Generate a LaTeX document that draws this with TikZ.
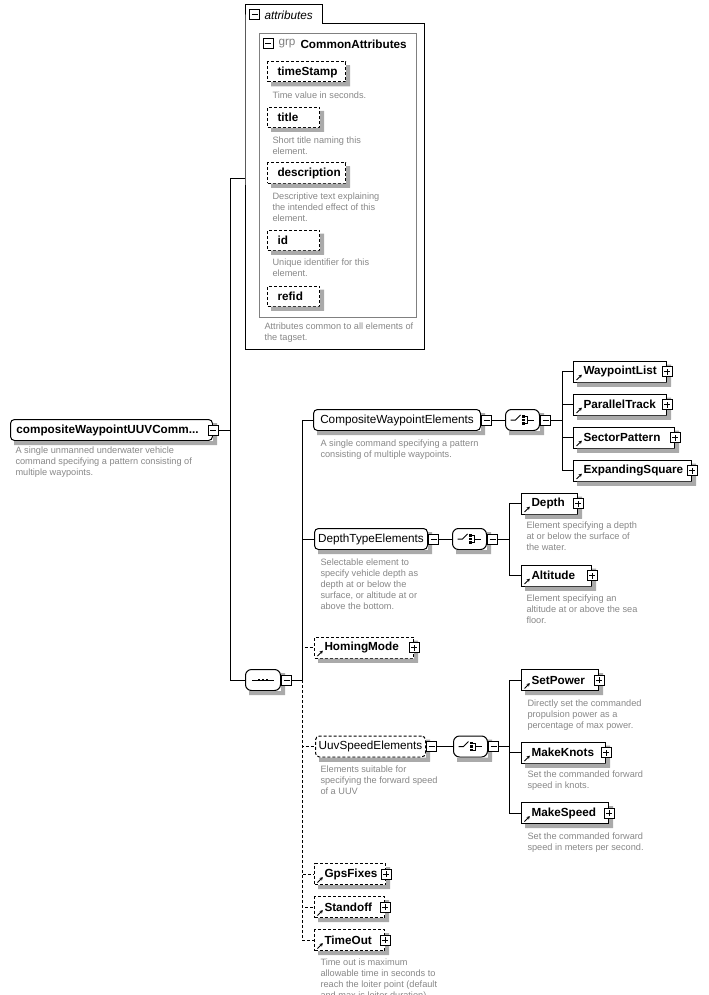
\documentclass[tikz,border=0pt]{standalone}
\usepackage{fontspec}
\setmainfont{Liberation Sans}
\usetikzlibrary{arrows.meta}

\newdimen\px
\px=0.75pt

\definecolor{shadowgray}{RGB}{170,170,170}

\tikzset{
  nm/.style={font=\fontsize{8.8}{10}\selectfont},
  nmb/.style={font=\bfseries\fontsize{8.8}{10}\selectfont},
  dsh/.style={dash pattern=on 2.25pt off 1.5pt},
  box/.style={draw, fill=white, rectangle, anchor=west, minimum height=21\px,
    inner xsep=0pt, inner ysep=0pt, text width=#1\px},
  refbox/.style={box=#1, nmb, execute at begin node=\hspace*{10\px},
    path picture={\draw[solid, -{Stealth[length=2.4pt,width=2.6pt]}]
      ([xshift=2.25pt,yshift=1.5pt]path picture bounding box.south west) -- ++(4pt,4pt);}},
  optbox/.style={refbox=#1, dsh},
  attbox/.style={box=#1, nmb, minimum height=20\px, dsh, execute at begin node=\hspace*{10\px}},
  grpbox/.style={draw, fill=white, rectangle, rounded corners=3pt, anchor=west,
    minimum width=#1\px, minimum height=21\px, inner sep=0pt, nm},
  rootbox/.style={grpbox=#1, nmb, execute at end node=\hspace{8\px}},
  optgrp/.style={grpbox=#1, dsh},
  pm/.style={draw, solid, fill=white, rectangle, minimum size=10\px, inner sep=0pt},
  plusbox/.style={pm, path picture={
    \draw ([xshift=1.5pt]path picture bounding box.west) -- ([xshift=-1.5pt]path picture bounding box.east)
          ([yshift=1.5pt]path picture bounding box.south) -- ([yshift=-1.5pt]path picture bounding box.north);}},
  minbox/.style={pm, path picture={
    \draw ([xshift=1.5pt]path picture bounding box.west) -- ([xshift=-1.5pt]path picture bounding box.east);}},
  comp/.style={draw, fill=white, rectangle, rounded corners=4.5pt, anchor=west,
    minimum width=#1\px, minimum height=21\px, inner sep=0pt},
  seqc/.style={comp=35, path picture={
    \begin{scope}[shift={(path picture bounding box.center)}, sharp corners]
      \draw (-11,0) -- (11,0);
      \foreach \k in {-4,0,4} \fill[black] (\k-1.4,-1.4) rectangle (\k+1.4,1.4);
    \end{scope}}},
  choc/.style={comp=34, path picture={
    \begin{scope}[shift={(path picture bounding box.center)}, sharp corners]
      \draw (-12,0) -- (-7,0) -- (-2,-5);
      \foreach \k in {-3.5,0,3.5} \fill[black] (-0.3,\k-1.2) rectangle (2.1,\k+1.2);
      \draw (2.5,-3.5) -- (5,-3.5) -- (5,3.5) -- (2.5,3.5) (5,0) -- (11,0);
    \end{scope}}},
  desc/.style={anchor=north west, inner sep=0pt, align=left, text=black!47,
    font=\fontsize{6.9}{8.25}\selectfont},
  shadowfill/.style={fill=shadowgray, draw=none},
  shadowline/.style={draw=shadowgray, line width=3pt, line join=miter, line cap=butt},
}

\begin{document}
\begin{tikzpicture}[x=0.75pt, y=-0.75pt, line width=0.75pt]

\useasboundingbox (0,0) rectangle (708,995);

\node[rootbox=202] (root) at (10,430) {compositeWaypointUUVComm...};
\node[desc] (rootd) at (15,446) {A single unmanned underwater vehicle\\command specifying a pattern consisting of\\multiple waypoints.};

\node[minimum width=178\px, minimum height=324\px, anchor=north west, inner sep=0pt] (attrs) at (245,24) {};
\draw (attrs.north west) |- (322,5) |- (attrs.north east) |- (attrs.south west) -- cycle;
\node[minbox] (attrm) at (254.5,15) {};
\node[nm, font=\itshape\fontsize{8.8}{10}\selectfont, anchor=west, inner sep=0pt] (attrt) at (264,15) {attributes};

\node[draw=black!50, minimum width=157\px, minimum height=284\px, anchor=north west, inner sep=0pt] (grp) at (259,33) {};
\node[minbox] (grpm) at (268,44) {};
\node[nm, anchor=west, inner sep=0pt, text=black!50] (grpk) at (278,44) {grp};
\node[nmb, anchor=west, inner sep=0pt] (grpn) at (300,44) {CommonAttributes};

\node[attbox=78] (tstamp) at (267,72) {timeStamp};
\node[desc] (tstampd) at (272,91) {Time value in seconds.};
\node[attbox=52] (title) at (267,117.5) {title};
\node[desc] (titled) at (272,136) {Short title naming this\\element.};
\node[attbox=78] (descr) at (267,173) {description};
\node[desc] (descrd) at (272,192) {Descriptive text explaining\\the intended effect of this\\element.};
\node[attbox=52] (ident) at (267,240) {id};
\node[desc] (identd) at (272,258) {Unique identifier for this\\element.};
\node[attbox=52] (refid) at (267,296) {refid};
\node[desc] (attrd) at (264,322) {Attributes common to all elements of\\the tagset.};

\node[seqc] (seq) at (245,680) {};

\node[grpbox=167] (cwe) at (313,420) {CompositeWaypointElements};
\node[desc] (cwed) at (320,439) {A single command specifying a pattern\\consisting of multiple waypoints.};
\node[choc] (cho1) at (505,420) {};

\node[refbox=93] (wlist) at (573,371.5) {WaypointList};
\node[refbox=93] (ptrack) at (573,404.5) {ParallelTrack};
\node[refbox=101] (sector) at (573,437.5) {SectorPattern};
\node[refbox=118] (esquare) at (573,470.5) {ExpandingSquare};

\node[grpbox=113] (dte) at (314,539) {DepthTypeElements};
\node[desc] (dted) at (320,558) {Selectable element to\\specify vehicle depth as\\depth at or below the\\surface, or altitude at or\\above the bottom.};
\node[choc] (cho2) at (452,539) {};

\node[refbox=56] (depth) at (521,503.5) {Depth};
\node[desc] (depthd) at (526,521) {Element specifying a depth\\at or below the surface of\\the water.};
\node[refbox=70] (alt) at (521,575.5) {Altitude};
\node[desc] (altd) at (526,594) {Element specifying an\\altitude at or above the sea\\floor.};

\node[optbox=99] (homing) at (314,647.5) {HomingMode};

\node[optgrp=110] (uuv) at (315,746.5) {UuvSpeedElements};
\node[desc] (uuvd) at (320,765) {Elements suitable for\\specifying the forward speed\\of a UUV};
\node[choc] (cho3) at (453,746.5) {};

\node[refbox=77] (setpow) at (521,680) {SetPower};
\node[desc] (setpowd) at (527,699) {Directly set the commanded\\propulsion power as a\\percentage of max power.};
\node[refbox=84] (knots) at (521,752.5) {MakeKnots};
\node[desc] (knotsd) at (527,770) {Set the commanded forward\\speed in knots.};
\node[refbox=87] (mspeed) at (521,813) {MakeSpeed};
\node[desc] (mspeedd) at (527,832) {Set the commanded forward\\speed in meters per second.};

\node[optbox=71] (gps) at (314,874) {GpsFixes};
\node[optbox=70] (standoff) at (314,907) {Standoff};
\node[optbox=70] (timeout) at (314,940) {TimeOut};
\node[desc] (timeoutd) at (320,958) {Time out is maximum\\allowable time in seconds to\\reach the loiter point (default\\and max is loiter duration)};

% grey shadows right and below the boxes
\foreach \bx in {root,tstamp,title,descr,ident,refid,seq,cwe,cho1,wlist,ptrack,sector,esquare,
                 dte,cho2,depth,alt,homing,uuv,cho3,setpow,knots,mspeed,gps,standoff,timeout}
{
  \fill[shadowfill] ([yshift=-3pt]\bx.north east) -- ([xshift=3pt,yshift=-3pt]\bx.north east)
    -- ([xshift=3pt,yshift=-3pt]\bx.south east) -- ([xshift=3pt,yshift=-3pt]\bx.south west)
    -- ([xshift=3pt]\bx.south west) -- (\bx.south east) -- cycle;
  \draw[shadowline] ([xshift=3pt,yshift=-1.5pt]\bx.south west) -- ([xshift=1.5pt,yshift=-1.5pt]\bx.south east)
    -- ([xshift=1.5pt,yshift=-3pt]\bx.north east);
}

\node[minbox] (rootm) at (root.east) {};
\node[minbox, anchor=west] (seqm) at (seq.east) {};
\node[minbox, anchor=west] (cwem) at (cwe.east) {};
\node[minbox, anchor=west] (cho1m) at (cho1.east) {};
\node[plusbox] (wlistp) at (wlist.east) {};
\node[plusbox] (ptrackp) at (ptrack.east) {};
\node[plusbox] (sectorp) at (sector.east) {};
\node[plusbox] (esquarep) at (esquare.east) {};
\node[minbox, anchor=west] (dtem) at (dte.east) {};
\node[minbox, anchor=west] (cho2m) at (cho2.east) {};
\node[plusbox] (depthp) at (depth.east) {};
\node[plusbox] (altp) at (alt.east) {};
\node[plusbox] (homingp) at (homing.east) {};
\node[minbox, anchor=west] (uuvm) at (uuv.east) {};
\node[minbox, anchor=west] (cho3m) at (cho3.east) {};
\node[plusbox] (setpowp) at (setpow.east) {};
\node[plusbox] (knotsp) at (knots.east) {};
\node[plusbox] (mspeedp) at (mspeed.east) {};
\node[plusbox] (gpsp) at (gps.east) {};
\node[plusbox] (standoffp) at (standoff.east) {};
\node[plusbox] (timeoutp) at (timeout.east) {};

\draw (rootm.east) -- ++(12,0) |- (attrs.west |- 0,178);
\draw (rootm.east) -- ++(12,0) |- (seq.west);

\draw[dsh] (seqm.east) -- ++(10,0) |- (timeout.west);
\draw[dsh] (seqm.east) -- ++(10,0) |- (standoff.west);
\draw[dsh] (seqm.east) -- ++(10,0) |- (gps.west);
\draw[dsh] (seqm.east) -- ++(10,0) |- (uuv.west);
\draw[dsh] (seqm.east) -- ++(10,0) |- (homing.west);
\draw (seqm.east) -- ++(10,0) |- (cwe.west);
\draw (seqm.east) -- ++(10,0) |- (dte.west);

\draw (cwem.east) -- (cho1.west);
\draw (cho1m.east) -- ++(11,0) |- (wlist.west);
\draw (cho1m.east) -- ++(11,0) |- (ptrack.west);
\draw (cho1m.east) -- ++(11,0) |- (sector.west);
\draw (cho1m.east) -- ++(11,0) |- (esquare.west);

\draw (dtem.east) -- (cho2.west);
\draw (cho2m.east) -- ++(11,0) |- (depth.west);
\draw (cho2m.east) -- ++(11,0) |- (alt.west);

\draw (uuvm.east) -- (cho3.west);
\draw (cho3m.east) -- ++(10,0) |- (setpow.west);
\draw (cho3m.east) -- ++(10,0) |- (knots.west);
\draw (cho3m.east) -- ++(10,0) |- (mspeed.west);

\end{tikzpicture}
\end{document}
